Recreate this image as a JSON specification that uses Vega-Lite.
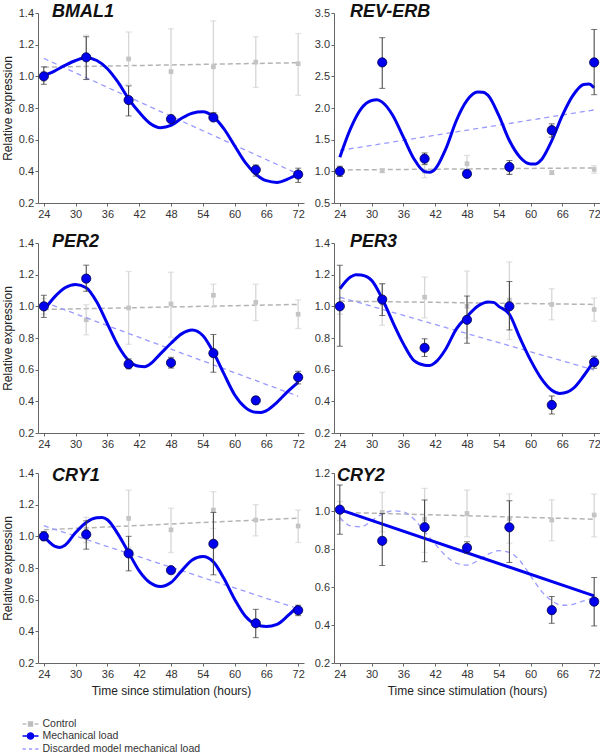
{
"$schema":"https://vega.github.io/schema/vega-lite/v6.json",
"autosize":{"type":"pad"},
"padding":{"left":1,"top":3,"right":1,"bottom":1},
"config":{"font":"Liberation Sans","view":{"stroke":null},
"axis":{"grid":false,"labelFontSize":11,"labelColor":"#333","titleFontSize":12,"titleFontWeight":"normal","titleColor":"#222","domainColor":"#666","tickColor":"#666","tickSize":3,"labelPadding":2,"titlePadding":6},
"axisY":{"titlePadding":4,"labelPadding":1.5},
"title":{"anchor":"start","fontSize":18,"fontWeight":"bold","fontStyle":"italic","color":"#111","frame":"group"}},
"datasets":{"d":[
{"g":"BMAL1","k":"C","h":24,"v":1.0,"lo":0.97,"hi":1.03},{"g":"BMAL1","k":"C","h":32,"v":1.12,"lo":0.98,"hi":1.26},{"g":"BMAL1","k":"C","h":40,"v":1.11,"lo":0.95,"hi":1.28},{"g":"BMAL1","k":"C","h":48,"v":1.03,"lo":0.76,"hi":1.30},{"g":"BMAL1","k":"C","h":56,"v":1.06,"lo":0.77,"hi":1.35},{"g":"BMAL1","k":"C","h":64,"v":1.09,"lo":0.93,"hi":1.25},{"g":"BMAL1","k":"C","h":72,"v":1.08,"lo":0.88,"hi":1.27},
{"g":"BMAL1","k":"M","h":24,"v":1.0,"lo":0.95,"hi":1.06},{"g":"BMAL1","k":"M","h":32,"v":1.12,"lo":0.98,"hi":1.25},{"g":"BMAL1","k":"M","h":40,"v":0.85,"lo":0.75,"hi":0.94},{"g":"BMAL1","k":"M","h":48,"v":0.73,"lo":0.71,"hi":0.74},{"g":"BMAL1","k":"M","h":56,"v":0.74,"lo":0.72,"hi":0.77},{"g":"BMAL1","k":"M","h":64,"v":0.41,"lo":0.37,"hi":0.44},{"g":"BMAL1","k":"M","h":72,"v":0.38,"lo":0.33,"hi":0.42},
{"g":"BMAL1","k":"CL","h":24,"v":1.058},{"g":"BMAL1","k":"CL","h":72,"v":1.086},
{"g":"BMAL1","k":"D","h":24,"v":1.113},{"g":"BMAL1","k":"D","h":72,"v":0.383},
{"g":"BMAL1","k":"F","h":24,"v":1.005},{"g":"BMAL1","k":"F","h":26,"v":1.033},{"g":"BMAL1","k":"F","h":28,"v":1.069},{"g":"BMAL1","k":"F","h":30,"v":1.10},{"g":"BMAL1","k":"F","h":32,"v":1.117},{"g":"BMAL1","k":"F","h":34,"v":1.10},{"g":"BMAL1","k":"F","h":36,"v":1.048},{"g":"BMAL1","k":"F","h":38,"v":0.963},{"g":"BMAL1","k":"F","h":40,"v":0.858},{"g":"BMAL1","k":"F","h":42,"v":0.773},{"g":"BMAL1","k":"F","h":44,"v":0.704},{"g":"BMAL1","k":"F","h":46,"v":0.676},{"g":"BMAL1","k":"F","h":48,"v":0.69},{"g":"BMAL1","k":"F","h":50,"v":0.735},{"g":"BMAL1","k":"F","h":52,"v":0.767},{"g":"BMAL1","k":"F","h":54,"v":0.776},{"g":"BMAL1","k":"F","h":56,"v":0.745},{"g":"BMAL1","k":"F","h":58,"v":0.668},{"g":"BMAL1","k":"F","h":60,"v":0.562},{"g":"BMAL1","k":"F","h":62,"v":0.457},{"g":"BMAL1","k":"F","h":64,"v":0.383},{"g":"BMAL1","k":"F","h":66,"v":0.341},{"g":"BMAL1","k":"F","h":68,"v":0.330},{"g":"BMAL1","k":"F","h":70,"v":0.351},{"g":"BMAL1","k":"F","h":72,"v":0.383},
{"g":"REV-ERB","k":"C","h":24,"v":1.0,"lo":0.95,"hi":1.05},{"g":"REV-ERB","k":"C","h":32,"v":1.01,"lo":0.98,"hi":1.04},{"g":"REV-ERB","k":"C","h":40,"v":1.0,"lo":0.9,"hi":1.1},{"g":"REV-ERB","k":"C","h":48,"v":1.12,"lo":1.0,"hi":1.25},{"g":"REV-ERB","k":"C","h":56,"v":1.05,"lo":0.97,"hi":1.12},{"g":"REV-ERB","k":"C","h":64,"v":0.98,"lo":0.95,"hi":1.01},{"g":"REV-ERB","k":"C","h":72,"v":1.03,"lo":0.97,"hi":1.09},
{"g":"REV-ERB","k":"M","h":24,"v":1.0,"lo":0.92,"hi":1.08},{"g":"REV-ERB","k":"M","h":32,"v":2.72,"lo":2.31,"hi":3.11},{"g":"REV-ERB","k":"M","h":40,"v":1.2,"lo":1.11,"hi":1.29},{"g":"REV-ERB","k":"M","h":48,"v":0.96,"lo":0.95,"hi":0.98},{"g":"REV-ERB","k":"M","h":56,"v":1.07,"lo":0.95,"hi":1.17},{"g":"REV-ERB","k":"M","h":64,"v":1.65,"lo":1.54,"hi":1.75},{"g":"REV-ERB","k":"M","h":72,"v":2.72,"lo":2.21,"hi":3.24},
{"g":"REV-ERB","k":"CL","h":24,"v":1.022},{"g":"REV-ERB","k":"CL","h":72,"v":1.054},
{"g":"REV-ERB","k":"D","h":24,"v":1.33},{"g":"REV-ERB","k":"D","h":72,"v":1.97},
{"g":"REV-ERB","k":"F","h":24,"v":1.223},{"g":"REV-ERB","k":"F","h":26,"v":1.671},{"g":"REV-ERB","k":"F","h":28,"v":1.987},{"g":"REV-ERB","k":"F","h":30,"v":2.119},{"g":"REV-ERB","k":"F","h":31,"v":2.13},{"g":"REV-ERB","k":"F","h":32,"v":2.093},{"g":"REV-ERB","k":"F","h":34,"v":1.882},{"g":"REV-ERB","k":"F","h":36,"v":1.539},{"g":"REV-ERB","k":"F","h":38,"v":1.196},{"g":"REV-ERB","k":"F","h":40,"v":0.996},{"g":"REV-ERB","k":"F","h":41,"v":0.985},{"g":"REV-ERB","k":"F","h":42,"v":1.038},{"g":"REV-ERB","k":"F","h":44,"v":1.355},{"g":"REV-ERB","k":"F","h":46,"v":1.803},{"g":"REV-ERB","k":"F","h":48,"v":2.119},{"g":"REV-ERB","k":"F","h":50,"v":2.251},{"g":"REV-ERB","k":"F","h":51,"v":2.25},{"g":"REV-ERB","k":"F","h":52,"v":2.198},{"g":"REV-ERB","k":"F","h":54,"v":1.882},{"g":"REV-ERB","k":"F","h":56,"v":1.486},{"g":"REV-ERB","k":"F","h":58,"v":1.223},{"g":"REV-ERB","k":"F","h":60,"v":1.117},{"g":"REV-ERB","k":"F","h":61,"v":1.117},{"g":"REV-ERB","k":"F","h":62,"v":1.18},{"g":"REV-ERB","k":"F","h":64,"v":1.486},{"g":"REV-ERB","k":"F","h":66,"v":1.882},{"g":"REV-ERB","k":"F","h":68,"v":2.198},{"g":"REV-ERB","k":"F","h":70,"v":2.37},{"g":"REV-ERB","k":"F","h":71,"v":2.38},{"g":"REV-ERB","k":"F","h":72,"v":2.319},
{"g":"PER2","k":"C","h":24,"v":1.0,"lo":0.95,"hi":1.05},{"g":"PER2","k":"C","h":32,"v":0.915,"lo":0.82,"hi":1.01},{"g":"PER2","k":"C","h":40,"v":0.99,"lo":0.76,"hi":1.22},{"g":"PER2","k":"C","h":48,"v":1.015,"lo":0.805,"hi":1.215},{"g":"PER2","k":"C","h":56,"v":1.07,"lo":0.995,"hi":1.14},{"g":"PER2","k":"C","h":64,"v":1.025,"lo":0.91,"hi":1.14},{"g":"PER2","k":"C","h":72,"v":0.95,"lo":0.86,"hi":1.04},
{"g":"PER2","k":"M","h":24,"v":1.0,"lo":0.93,"hi":1.07},{"g":"PER2","k":"M","h":32,"v":1.175,"lo":1.095,"hi":1.26},{"g":"PER2","k":"M","h":40,"v":0.635,"lo":0.605,"hi":0.668},{"g":"PER2","k":"M","h":48,"v":0.643,"lo":0.61,"hi":0.678},{"g":"PER2","k":"M","h":56,"v":0.704,"lo":0.584,"hi":0.822},{"g":"PER2","k":"M","h":64,"v":0.406,"lo":0.383,"hi":0.43},{"g":"PER2","k":"M","h":72,"v":0.552,"lo":0.51,"hi":0.59},
{"g":"PER2","k":"CL","h":24,"v":0.98},{"g":"PER2","k":"CL","h":72,"v":1.012},
{"g":"PER2","k":"D","h":24,"v":1.027},{"g":"PER2","k":"D","h":72,"v":0.432},
{"g":"PER2","k":"F","h":24,"v":0.975},{"g":"PER2","k":"F","h":26,"v":1.058},{"g":"PER2","k":"F","h":28,"v":1.117},{"g":"PER2","k":"F","h":30,"v":1.138},{"g":"PER2","k":"F","h":32,"v":1.117},{"g":"PER2","k":"F","h":34,"v":1.027},{"g":"PER2","k":"F","h":36,"v":0.889},{"g":"PER2","k":"F","h":38,"v":0.752},{"g":"PER2","k":"F","h":40,"v":0.657},{"g":"PER2","k":"F","h":42,"v":0.621},{"g":"PER2","k":"F","h":43,"v":0.619},{"g":"PER2","k":"F","h":44,"v":0.634},{"g":"PER2","k":"F","h":46,"v":0.700},{"g":"PER2","k":"F","h":48,"v":0.767},{"g":"PER2","k":"F","h":50,"v":0.826},{"g":"PER2","k":"F","h":52,"v":0.851},{"g":"PER2","k":"F","h":54,"v":0.816},{"g":"PER2","k":"F","h":56,"v":0.710},{"g":"PER2","k":"F","h":58,"v":0.573},{"g":"PER2","k":"F","h":60,"v":0.442},{"g":"PER2","k":"F","h":62,"v":0.362},{"g":"PER2","k":"F","h":64,"v":0.331},{"g":"PER2","k":"F","h":65,"v":0.330},{"g":"PER2","k":"F","h":66,"v":0.341},{"g":"PER2","k":"F","h":68,"v":0.394},{"g":"PER2","k":"F","h":70,"v":0.461},{"g":"PER2","k":"F","h":72,"v":0.520},
{"g":"PER3","k":"C","h":24,"v":1.0,"lo":0.95,"hi":1.05},{"g":"PER3","k":"C","h":32,"v":1.02,"lo":0.88,"hi":1.14},{"g":"PER3","k":"C","h":40,"v":1.058,"lo":0.927,"hi":1.185},{"g":"PER3","k":"C","h":48,"v":1.0,"lo":0.8,"hi":1.223},{"g":"PER3","k":"C","h":56,"v":1.04,"lo":0.79,"hi":1.28},{"g":"PER3","k":"C","h":64,"v":1.012,"lo":0.915,"hi":1.111},{"g":"PER3","k":"C","h":72,"v":0.98,"lo":0.906,"hi":1.052},
{"g":"PER3","k":"M","h":24,"v":1.0,"lo":0.748,"hi":1.259},{"g":"PER3","k":"M","h":32,"v":1.043,"lo":0.942,"hi":1.143},{"g":"PER3","k":"M","h":40,"v":0.738,"lo":0.683,"hi":0.795},{"g":"PER3","k":"M","h":48,"v":0.915,"lo":0.767,"hi":1.065},{"g":"PER3","k":"M","h":56,"v":1.0,"lo":0.851,"hi":1.157},{"g":"PER3","k":"M","h":64,"v":0.377,"lo":0.32,"hi":0.434},{"g":"PER3","k":"M","h":72,"v":0.647,"lo":0.609,"hi":0.685},
{"g":"PER3","k":"CL","h":24,"v":1.033},{"g":"PER3","k":"CL","h":72,"v":1.012},
{"g":"PER3","k":"D","h":24,"v":1.058},{"g":"PER3","k":"D","h":72,"v":0.598},
{"g":"PER3","k":"F","h":24,"v":1.111},{"g":"PER3","k":"F","h":26,"v":1.185},{"g":"PER3","k":"F","h":27,"v":1.2},{"g":"PER3","k":"F","h":28,"v":1.198},{"g":"PER3","k":"F","h":30,"v":1.164},{"g":"PER3","k":"F","h":32,"v":1.048},{"g":"PER3","k":"F","h":34,"v":0.9},{"g":"PER3","k":"F","h":36,"v":0.763},{"g":"PER3","k":"F","h":38,"v":0.657},{"g":"PER3","k":"F","h":40,"v":0.628},{"g":"PER3","k":"F","h":41,"v":0.626},{"g":"PER3","k":"F","h":42,"v":0.645},{"g":"PER3","k":"F","h":44,"v":0.731},{"g":"PER3","k":"F","h":46,"v":0.858},{"g":"PER3","k":"F","h":48,"v":0.935},{"g":"PER3","k":"F","h":50,"v":1.0},{"g":"PER3","k":"F","h":52,"v":1.027},{"g":"PER3","k":"F","h":53,"v":1.025},{"g":"PER3","k":"F","h":54,"v":1.0},{"g":"PER3","k":"F","h":56,"v":0.95},{"g":"PER3","k":"F","h":58,"v":0.8},{"g":"PER3","k":"F","h":60,"v":0.66},{"g":"PER3","k":"F","h":62,"v":0.545},{"g":"PER3","k":"F","h":64,"v":0.47},{"g":"PER3","k":"F","h":65.5,"v":0.45},{"g":"PER3","k":"F","h":67,"v":0.46},{"g":"PER3","k":"F","h":68,"v":0.48},{"g":"PER3","k":"F","h":70,"v":0.56},{"g":"PER3","k":"F","h":72,"v":0.657},
{"g":"CRY1","k":"C","h":24,"v":1.0,"lo":0.97,"hi":1.03},{"g":"CRY1","k":"C","h":32,"v":1.04,"lo":0.96,"hi":1.12},{"g":"CRY1","k":"C","h":40,"v":1.113,"lo":0.93,"hi":1.292},{"g":"CRY1","k":"C","h":48,"v":1.041,"lo":0.898,"hi":1.178},{"g":"CRY1","k":"C","h":56,"v":1.166,"lo":1.05,"hi":1.282},{"g":"CRY1","k":"C","h":64,"v":1.103,"lo":1.003,"hi":1.2},{"g":"CRY1","k":"C","h":72,"v":1.065,"lo":0.961,"hi":1.166},
{"g":"CRY1","k":"M","h":24,"v":1.0,"lo":0.976,"hi":1.029},{"g":"CRY1","k":"M","h":32,"v":1.012,"lo":0.919,"hi":1.098},{"g":"CRY1","k":"M","h":40,"v":0.892,"lo":0.782,"hi":1.0},{"g":"CRY1","k":"M","h":48,"v":0.786,"lo":0.776,"hi":0.796},{"g":"CRY1","k":"M","h":56,"v":0.953,"lo":0.757,"hi":1.151},{"g":"CRY1","k":"M","h":64,"v":0.451,"lo":0.36,"hi":0.539},{"g":"CRY1","k":"M","h":72,"v":0.533,"lo":0.499,"hi":0.565},
{"g":"CRY1","k":"CL","h":24,"v":1.041},{"g":"CRY1","k":"CL","h":72,"v":1.115},
{"g":"CRY1","k":"D","h":24,"v":1.067},{"g":"CRY1","k":"D","h":72,"v":0.543},
{"g":"CRY1","k":"F","h":24,"v":1.001},{"g":"CRY1","k":"F","h":25,"v":0.965},{"g":"CRY1","k":"F","h":26,"v":0.938},{"g":"CRY1","k":"F","h":27,"v":0.93},{"g":"CRY1","k":"F","h":28,"v":0.944},{"g":"CRY1","k":"F","h":30,"v":1.024},{"g":"CRY1","k":"F","h":32,"v":1.088},{"g":"CRY1","k":"F","h":34,"v":1.117},{"g":"CRY1","k":"F","h":35,"v":1.119},{"g":"CRY1","k":"F","h":36,"v":1.105},{"g":"CRY1","k":"F","h":38,"v":1.014},{"g":"CRY1","k":"F","h":40,"v":0.898},{"g":"CRY1","k":"F","h":42,"v":0.782},{"g":"CRY1","k":"F","h":44,"v":0.708},{"g":"CRY1","k":"F","h":46,"v":0.683},{"g":"CRY1","k":"F","h":48,"v":0.708},{"g":"CRY1","k":"F","h":50,"v":0.782},{"g":"CRY1","k":"F","h":52,"v":0.851},{"g":"CRY1","k":"F","h":54,"v":0.873},{"g":"CRY1","k":"F","h":56,"v":0.839},{"g":"CRY1","k":"F","h":58,"v":0.733},{"g":"CRY1","k":"F","h":60,"v":0.603},{"g":"CRY1","k":"F","h":62,"v":0.497},{"g":"CRY1","k":"F","h":64,"v":0.444},{"g":"CRY1","k":"F","h":66,"v":0.43},{"g":"CRY1","k":"F","h":68,"v":0.444},{"g":"CRY1","k":"F","h":70,"v":0.497},{"g":"CRY1","k":"F","h":72,"v":0.561},
{"g":"CRY2","k":"C","h":24,"v":1.0,"lo":0.95,"hi":1.05},{"g":"CRY2","k":"C","h":32,"v":0.993,"lo":0.89,"hi":1.098},{"g":"CRY2","k":"C","h":40,"v":0.957,"lo":0.782,"hi":1.119},{"g":"CRY2","k":"C","h":48,"v":0.987,"lo":0.864,"hi":1.11},{"g":"CRY2","k":"C","h":56,"v":0.96,"lo":0.83,"hi":1.09},{"g":"CRY2","k":"C","h":64,"v":0.952,"lo":0.843,"hi":1.059},{"g":"CRY2","k":"C","h":72,"v":0.979,"lo":0.864,"hi":1.089},
{"g":"CRY2","k":"M","h":24,"v":1.007,"lo":0.878,"hi":1.137},{"g":"CRY2","k":"M","h":32,"v":0.843,"lo":0.713,"hi":0.987},{"g":"CRY2","k":"M","h":40,"v":0.915,"lo":0.733,"hi":1.058},{"g":"CRY2","k":"M","h":48,"v":0.806,"lo":0.778,"hi":0.838},{"g":"CRY2","k":"M","h":56,"v":0.914,"lo":0.729,"hi":1.054},{"g":"CRY2","k":"M","h":64,"v":0.478,"lo":0.409,"hi":0.55},{"g":"CRY2","k":"M","h":72,"v":0.523,"lo":0.395,"hi":0.65},
{"g":"CRY2","k":"CL","h":24,"v":0.993},{"g":"CRY2","k":"CL","h":72,"v":0.957},
{"g":"CRY2","k":"F","h":24,"v":1.007},{"g":"CRY2","k":"F","h":72,"v":0.553},
{"g":"CRY2","k":"D","h":24,"v":0.966},{"g":"CRY2","k":"D","h":26,"v":0.922},{"g":"CRY2","k":"D","h":28,"v":0.917},{"g":"CRY2","k":"D","h":30,"v":0.949},{"g":"CRY2","k":"D","h":32,"v":0.984},{"g":"CRY2","k":"D","h":34,"v":1.001},{"g":"CRY2","k":"D","h":36,"v":0.996},{"g":"CRY2","k":"D","h":38,"v":0.957},{"g":"CRY2","k":"D","h":40,"v":0.891},{"g":"CRY2","k":"D","h":42,"v":0.826},{"g":"CRY2","k":"D","h":44,"v":0.764},{"g":"CRY2","k":"D","h":46,"v":0.725},{"g":"CRY2","k":"D","h":48,"v":0.715},{"g":"CRY2","k":"D","h":50,"v":0.738},{"g":"CRY2","k":"D","h":52,"v":0.773},{"g":"CRY2","k":"D","h":54,"v":0.791},{"g":"CRY2","k":"D","h":56,"v":0.782},{"g":"CRY2","k":"D","h":58,"v":0.738},{"g":"CRY2","k":"D","h":60,"v":0.659},{"g":"CRY2","k":"D","h":62,"v":0.58},{"g":"CRY2","k":"D","h":64,"v":0.527},{"g":"CRY2","k":"D","h":66,"v":0.504},{"g":"CRY2","k":"D","h":68,"v":0.509},{"g":"CRY2","k":"D","h":70,"v":0.527},{"g":"CRY2","k":"D","h":72,"v":0.544}
]},
"columns":2,
"spacing":{"row":40,"column":30},
"bounds":"flush",
"concat":[
{"width":266,"height":190,"title":{"text":"BMAL1","dx":14,"offset":-14},"data":{"name":"d"},"transform":[{"filter":"datum.g === 'BMAL1'"}],
"encoding":{"x":{"field":"h","type":"quantitative","scale":{"domain":[22.9,73.1],"nice":false,"zero":false},"axis":{"values":[24,30,36,42,48,54,60,66,72],"title":null}},
"y":{"field":"v","type":"quantitative","scale":{"domain":[0.2,1.4],"nice":false,"zero":false},"axis":{"values":[0.2,0.4,0.6,0.8,1.0,1.2,1.4],"format":".1f","title":"Relative expression"}}},
"layer":[
{"transform":[{"filter":"datum.k === 'CL'"}],"mark":{"type":"line","color":"#b4b4b4","strokeWidth":1.5,"strokeDash":[5,3]}},
{"transform":[{"filter":"datum.k === 'C'"}],"mark":{"type":"errorbar","ticks":{"size":6},"color":"#d6d6d6","thickness":1.3},"encoding":{"y":{"field":"lo","type":"quantitative"},"y2":{"field":"hi"}}},
{"transform":[{"filter":"datum.k === 'C'"}],"mark":{"type":"square","color":"#c4c4c4","size":22,"opacity":1}},
{"transform":[{"filter":"datum.k === 'D'"}],"mark":{"type":"line","color":"#9a9aff","strokeWidth":1.3,"strokeDash":[5,4],"interpolate":"monotone"}},
{"transform":[{"filter":"datum.k === 'F'"}],"mark":{"type":"line","color":"#0000ee","strokeWidth":3,"interpolate":"monotone"}},
{"transform":[{"filter":"datum.k === 'M'"}],"mark":{"type":"errorbar","ticks":{"size":6},"color":"#3a3a3a","thickness":1},"encoding":{"y":{"field":"lo","type":"quantitative"},"y2":{"field":"hi"}}},
{"transform":[{"filter":"datum.k === 'M'"}],"mark":{"type":"point","shape":"circle","filled":true,"size":85,"fill":"#0000ee","stroke":"#000044","strokeWidth":0.8,"opacity":1}}
]},
{"width":266,"height":190,"title":{"text":"REV-ERB","dx":16,"offset":-14},"data":{"name":"d"},"transform":[{"filter":"datum.g === 'REV-ERB'"}],
"encoding":{"x":{"field":"h","type":"quantitative","scale":{"domain":[22.9,73.1],"nice":false,"zero":false},"axis":{"values":[24,30,36,42,48,54,60,66,72],"title":null}},
"y":{"field":"v","type":"quantitative","scale":{"domain":[0.5,3.5],"nice":false,"zero":false},"axis":{"values":[0.5,1.0,1.5,2.0,2.5,3.0,3.5],"format":".1f","title":null}}},
"layer":[
{"transform":[{"filter":"datum.k === 'CL'"}],"mark":{"type":"line","color":"#b4b4b4","strokeWidth":1.5,"strokeDash":[5,3]}},
{"transform":[{"filter":"datum.k === 'C'"}],"mark":{"type":"errorbar","ticks":{"size":6},"color":"#d6d6d6","thickness":1.3},"encoding":{"y":{"field":"lo","type":"quantitative"},"y2":{"field":"hi"}}},
{"transform":[{"filter":"datum.k === 'C'"}],"mark":{"type":"square","color":"#c4c4c4","size":22,"opacity":1}},
{"transform":[{"filter":"datum.k === 'D'"}],"mark":{"type":"line","color":"#9a9aff","strokeWidth":1.3,"strokeDash":[5,4],"interpolate":"monotone"}},
{"transform":[{"filter":"datum.k === 'F'"}],"mark":{"type":"line","color":"#0000ee","strokeWidth":3,"interpolate":"monotone"}},
{"transform":[{"filter":"datum.k === 'M'"}],"mark":{"type":"errorbar","ticks":{"size":6},"color":"#3a3a3a","thickness":1},"encoding":{"y":{"field":"lo","type":"quantitative"},"y2":{"field":"hi"}}},
{"transform":[{"filter":"datum.k === 'M'"}],"mark":{"type":"point","shape":"circle","filled":true,"size":85,"fill":"#0000ee","stroke":"#000044","strokeWidth":0.8,"opacity":1}}
]},
{"width":266,"height":190,"title":{"text":"PER2","dx":14,"offset":-14},"data":{"name":"d"},"transform":[{"filter":"datum.g === 'PER2'"}],
"encoding":{"x":{"field":"h","type":"quantitative","scale":{"domain":[22.9,73.1],"nice":false,"zero":false},"axis":{"values":[24,30,36,42,48,54,60,66,72],"title":null}},
"y":{"field":"v","type":"quantitative","scale":{"domain":[0.2,1.4],"nice":false,"zero":false},"axis":{"values":[0.2,0.4,0.6,0.8,1.0,1.2,1.4],"format":".1f","title":"Relative expression"}}},
"layer":[
{"transform":[{"filter":"datum.k === 'CL'"}],"mark":{"type":"line","color":"#b4b4b4","strokeWidth":1.5,"strokeDash":[5,3]}},
{"transform":[{"filter":"datum.k === 'C'"}],"mark":{"type":"errorbar","ticks":{"size":6},"color":"#d6d6d6","thickness":1.3},"encoding":{"y":{"field":"lo","type":"quantitative"},"y2":{"field":"hi"}}},
{"transform":[{"filter":"datum.k === 'C'"}],"mark":{"type":"square","color":"#c4c4c4","size":22,"opacity":1}},
{"transform":[{"filter":"datum.k === 'D'"}],"mark":{"type":"line","color":"#9a9aff","strokeWidth":1.3,"strokeDash":[5,4],"interpolate":"monotone"}},
{"transform":[{"filter":"datum.k === 'F'"}],"mark":{"type":"line","color":"#0000ee","strokeWidth":3,"interpolate":"monotone"}},
{"transform":[{"filter":"datum.k === 'M'"}],"mark":{"type":"errorbar","ticks":{"size":6},"color":"#3a3a3a","thickness":1},"encoding":{"y":{"field":"lo","type":"quantitative"},"y2":{"field":"hi"}}},
{"transform":[{"filter":"datum.k === 'M'"}],"mark":{"type":"point","shape":"circle","filled":true,"size":85,"fill":"#0000ee","stroke":"#000044","strokeWidth":0.8,"opacity":1}}
]},
{"width":266,"height":190,"title":{"text":"PER3","dx":16,"offset":-14},"data":{"name":"d"},"transform":[{"filter":"datum.g === 'PER3'"}],
"encoding":{"x":{"field":"h","type":"quantitative","scale":{"domain":[22.9,73.1],"nice":false,"zero":false},"axis":{"values":[24,30,36,42,48,54,60,66,72],"title":null}},
"y":{"field":"v","type":"quantitative","scale":{"domain":[0.2,1.4],"nice":false,"zero":false},"axis":{"values":[0.2,0.4,0.6,0.8,1.0,1.2,1.4],"format":".1f","title":null}}},
"layer":[
{"transform":[{"filter":"datum.k === 'CL'"}],"mark":{"type":"line","color":"#b4b4b4","strokeWidth":1.5,"strokeDash":[5,3]}},
{"transform":[{"filter":"datum.k === 'C'"}],"mark":{"type":"errorbar","ticks":{"size":6},"color":"#d6d6d6","thickness":1.3},"encoding":{"y":{"field":"lo","type":"quantitative"},"y2":{"field":"hi"}}},
{"transform":[{"filter":"datum.k === 'C'"}],"mark":{"type":"square","color":"#c4c4c4","size":22,"opacity":1}},
{"transform":[{"filter":"datum.k === 'D'"}],"mark":{"type":"line","color":"#9a9aff","strokeWidth":1.3,"strokeDash":[5,4],"interpolate":"monotone"}},
{"transform":[{"filter":"datum.k === 'F'"}],"mark":{"type":"line","color":"#0000ee","strokeWidth":3,"interpolate":"monotone"}},
{"transform":[{"filter":"datum.k === 'M'"}],"mark":{"type":"errorbar","ticks":{"size":6},"color":"#3a3a3a","thickness":1},"encoding":{"y":{"field":"lo","type":"quantitative"},"y2":{"field":"hi"}}},
{"transform":[{"filter":"datum.k === 'M'"}],"mark":{"type":"point","shape":"circle","filled":true,"size":85,"fill":"#0000ee","stroke":"#000044","strokeWidth":0.8,"opacity":1}}
]},
{"width":266,"height":190,"title":{"text":"CRY1","dx":14,"offset":-18},"data":{"name":"d"},"transform":[{"filter":"datum.g === 'CRY1'"}],
"encoding":{"x":{"field":"h","type":"quantitative","scale":{"domain":[22.9,73.1],"nice":false,"zero":false},"axis":{"values":[24,30,36,42,48,54,60,66,72],"title":"Time since stimulation (hours)"}},
"y":{"field":"v","type":"quantitative","scale":{"domain":[0.2,1.4],"nice":false,"zero":false},"axis":{"values":[0.2,0.4,0.6,0.8,1.0,1.2,1.4],"format":".1f","title":"Relative expression"}}},
"layer":[
{"transform":[{"filter":"datum.k === 'CL'"}],"mark":{"type":"line","color":"#b4b4b4","strokeWidth":1.5,"strokeDash":[5,3]}},
{"transform":[{"filter":"datum.k === 'C'"}],"mark":{"type":"errorbar","ticks":{"size":6},"color":"#d6d6d6","thickness":1.3},"encoding":{"y":{"field":"lo","type":"quantitative"},"y2":{"field":"hi"}}},
{"transform":[{"filter":"datum.k === 'C'"}],"mark":{"type":"square","color":"#c4c4c4","size":22,"opacity":1}},
{"transform":[{"filter":"datum.k === 'D'"}],"mark":{"type":"line","color":"#9a9aff","strokeWidth":1.3,"strokeDash":[5,4],"interpolate":"monotone"}},
{"transform":[{"filter":"datum.k === 'F'"}],"mark":{"type":"line","color":"#0000ee","strokeWidth":3,"interpolate":"monotone"}},
{"transform":[{"filter":"datum.k === 'M'"}],"mark":{"type":"errorbar","ticks":{"size":6},"color":"#3a3a3a","thickness":1},"encoding":{"y":{"field":"lo","type":"quantitative"},"y2":{"field":"hi"}}},
{"transform":[{"filter":"datum.k === 'M'"}],"mark":{"type":"point","shape":"circle","filled":true,"size":85,"fill":"#0000ee","stroke":"#000044","strokeWidth":0.8,"opacity":1}},
{"transform":[{"filter":"false"}],"mark":{"type":"point","filled":true,"strokeWidth":1.5,"opacity":1},
"encoding":{
"fill":{"field":"series","type":"nominal","scale":{"domain":["Control","Mechanical load","Discarded model mechanical load"],"range":["#bdbdbd","#0000ee","#9a9aff"]},"legend":{"title":null,"orient":"none","legendX":-14,"legendY":704.5,"labelFontSize":10.5,"labelColor":"#333","symbolSize":121,"symbolStrokeWidth":1.5,"rowPadding":-0.5,"padding":0,"labelOffset":5.5,"labelLimit":300}},
"stroke":{"field":"series","type":"nominal","scale":{"domain":["Control","Mechanical load","Discarded model mechanical load"],"range":["#bdbdbd","#0000ee","#9a9aff"]},"legend":{"title":null,"orient":"none","legendX":-14,"legendY":704.5,"labelFontSize":10.5,"labelColor":"#333","symbolSize":121,"symbolStrokeWidth":1.5,"rowPadding":-0.5,"padding":0,"labelOffset":5.5,"labelLimit":300}},
"shape":{"field":"series","type":"nominal","scale":{"domain":["Control","Mechanical load","Discarded model mechanical load"],"range":["M-1.45,0H-0.75M0.75,0H1.45M-0.35,-0.35H0.35V0.35H-0.35Z","M-1.45,0H1.45M-0.55,0A0.55,0.55,0,1,0,0.55,0A0.55,0.55,0,1,0,-0.55,0Z","M-1.45,0H-0.85M-0.3,0H0.3M0.85,0H1.45"]},"legend":{"title":null,"orient":"none","legendX":-14,"legendY":704.5,"labelFontSize":10.5,"labelColor":"#333","symbolSize":121,"symbolStrokeWidth":1.5,"rowPadding":-0.5,"padding":0,"labelOffset":5.5,"labelLimit":300}}
}}
]},
{"width":266,"height":190,"title":{"text":"CRY2","dx":3,"offset":-18},"data":{"name":"d"},"transform":[{"filter":"datum.g === 'CRY2'"}],
"encoding":{"x":{"field":"h","type":"quantitative","scale":{"domain":[22.9,73.1],"nice":false,"zero":false},"axis":{"values":[24,30,36,42,48,54,60,66,72],"title":"Time since stimulation (hours)"}},
"y":{"field":"v","type":"quantitative","scale":{"domain":[0.2,1.2],"nice":false,"zero":false},"axis":{"values":[0.2,0.4,0.6,0.8,1.0,1.2],"format":".1f","title":null}}},
"layer":[
{"transform":[{"filter":"datum.k === 'CL'"}],"mark":{"type":"line","color":"#b4b4b4","strokeWidth":1.5,"strokeDash":[5,3]}},
{"transform":[{"filter":"datum.k === 'C'"}],"mark":{"type":"errorbar","ticks":{"size":6},"color":"#d6d6d6","thickness":1.3},"encoding":{"y":{"field":"lo","type":"quantitative"},"y2":{"field":"hi"}}},
{"transform":[{"filter":"datum.k === 'C'"}],"mark":{"type":"square","color":"#c4c4c4","size":22,"opacity":1}},
{"transform":[{"filter":"datum.k === 'D'"}],"mark":{"type":"line","color":"#9a9aff","strokeWidth":1.3,"strokeDash":[5,4],"interpolate":"monotone"}},
{"transform":[{"filter":"datum.k === 'F'"}],"mark":{"type":"line","color":"#0000ee","strokeWidth":3,"interpolate":"monotone"}},
{"transform":[{"filter":"datum.k === 'M'"}],"mark":{"type":"errorbar","ticks":{"size":6},"color":"#3a3a3a","thickness":1},"encoding":{"y":{"field":"lo","type":"quantitative"},"y2":{"field":"hi"}}},
{"transform":[{"filter":"datum.k === 'M'"}],"mark":{"type":"point","shape":"circle","filled":true,"size":85,"fill":"#0000ee","stroke":"#000044","strokeWidth":0.8,"opacity":1}}
]}
]
}
